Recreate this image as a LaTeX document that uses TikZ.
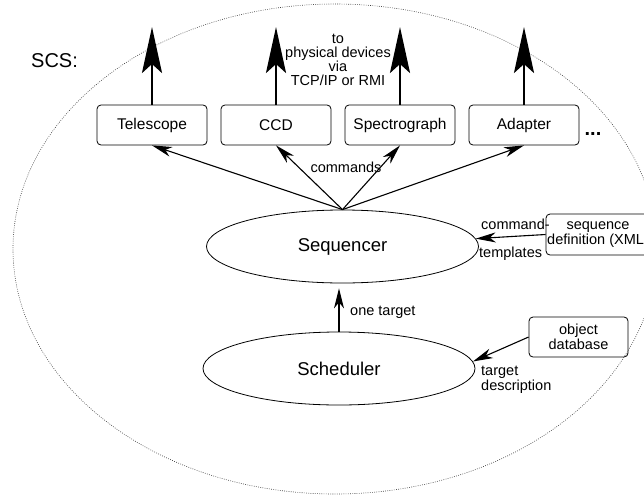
\documentclass[tikz,border=0pt]{standalone}
\usepackage{fontspec}
\setmainfont{Liberation Sans}
\usetikzlibrary{positioning,shapes.geometric,arrows.meta}

\begin{document}
\begin{tikzpicture}[x=1pt, y=-1pt, node distance=124pt,
		devbox/.style={rectangle, rounded corners=4pt, draw, line width=0.8pt, minimum width=110pt, minimum height=40pt, font=\fontsize{15.5}{17}\selectfont},
		infobox/.style={rectangle, rounded corners=4pt, draw, line width=0.8pt, align=center, inner sep=1pt, font=\fontsize{14.5}{15}\selectfont},
		proc/.style={ellipse, draw, line width=0.8pt, minimum width=272pt, minimum height=73pt, font=\fontsize{18.5}{20}\selectfont},
		lbl/.style={font=\fontsize{14.5}{14}\selectfont, inner sep=0pt},
		cmdarrow/.style={line width=1.1pt, -{Stealth[length=20pt,width=10pt,inset=6pt]}},
		devarrow/.style={line width=2.7pt, -{Stealth[length=46pt,width=20pt,inset=9pt]}}]

					\useasboundingbox (0,0) rectangle (644,495);
					% system boundary
					\draw[line width=0.6pt, dash pattern=on 0.8pt off 1.4pt, black!75] (335,249) ellipse [x radius=322pt, y radius=245pt];
					\node[lbl, font=\fontsize{20}{22}\selectfont] (scs) at (54.5,61) {SCS:};

					\node[devbox] (tel) at (152,125) {Telescope};
					\node[devbox] (ccd)[right of = tel] {CCD};
					\node[devbox] (spec)[right of = ccd] {Spectrograph};
					\node[devbox] (adap)[right of = spec] {Adapter};
					\node[font=\fontsize{20}{22}\selectfont\bfseries, anchor=base] (more) at (593,135) {...};

					\coordinate[above of = tel, node distance=98pt] (telout);
					\coordinate[above of = ccd, node distance=98pt] (ccdout);
					\coordinate[above of = spec, node distance=98pt] (specout);
					\coordinate[above of = adap, node distance=98pt] (adapout);

					\node[proc] (seq) at (342.5,246.5) {Sequencer};
					\node[proc] (sched) at (339,368.5) {Scheduler};
					\node[infobox, minimum width=104pt, minimum height=41pt] (seqdef) at (598,234.5) {sequence\\definition (XML\phantom{)}};
					\node[infobox, minimum width=99pt, minimum height=40pt, font=\fontsize{14.5}{13}\selectfont] (objdb) at (578.5,337) {object\\database};

					\node[lbl, align=center] (phys) at (338,60) {to\\physical devices\\via\\TCP/IP or RMI};
					\node[lbl] (cmds) at (346,167) {commands};
					\node[lbl, anchor=west] (one) at (350,312) {one target};
					\node[lbl, anchor=west] (cmdtpl) at (481,224) {command-};
					\node[lbl, anchor=west] (tpl) at (479,254) {templates};
					\node[lbl, anchor=west, align=left, font=\fontsize{14.5}{15}\selectfont] (tdesc) at (481,379.5) {target\\description};

					\path[devarrow]
						(tel) edge (telout)
						(ccd) edge (ccdout)
						(spec) edge (specout)
						(adap) edge (adapout)
					;
					\path[cmdarrow]
						(seq.north) edge (tel.south)
						(seq.north) edge (ccd.south)
						(seq.north) edge (spec.south)
						(seq.north) edge (adap.south)
						(sched.north) edge[shorten >=5pt] (sched.north |- seq.south)
						(seqdef.west) edge (seq)
						(objdb.west) edge (sched.3)
					;
				\end{tikzpicture}
\end{document}
